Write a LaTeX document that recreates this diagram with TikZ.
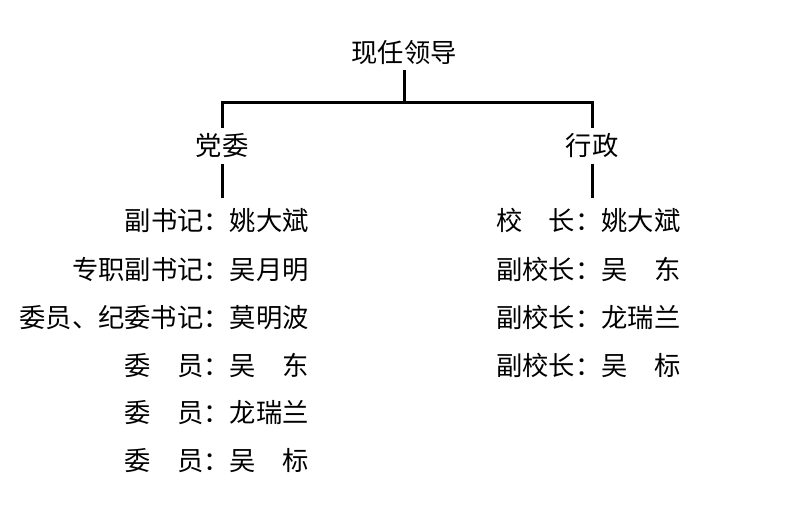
\documentclass[tikz,border=0pt]{standalone}
\usepackage{fontspec}
\newfontfamily\cjk{Noto Sans CJK SC}
\begin{document}
\begin{tikzpicture}[x=1pt,y=1pt,
  txt/.style={font=\cjk\fontsize{26.3}{30}\selectfont, inner xsep=0pt, inner ysep=5pt, text height=22.5pt, text depth=3pt},
  row/.style={txt, inner ysep=0pt},
  conn/.style={line width=3pt}]
\useasboundingbox[fill=white] (0,0) rectangle (798,514);
% top levels
\node[txt] (top) at (404,461.5) {现任领导};
\node[txt] (dw) at (222,368) {党委};
\node[txt] (xz) at (592,368) {行政};
\coordinate (dwend) at (222,316);
\coordinate (xzend) at (592,316);
\draw[conn] (top.south) -- ++(0,-32) coordinate (bar) -| (dw.north);
\draw[conn] (bar) -| (xz.north);
\draw[conn] (dw.south) -- (dwend);
\draw[conn] (xz.south) -- (xzend);
% left column
\node[row, anchor=east] (l1) at (309,293) {副书记：姚大斌};
\node[row, anchor=east] (l2) at (309,244) {专职副书记：吴月明};
\node[row, anchor=east] (l3) at (309,196) {委员、纪委书记：莫明波};
\node[row, anchor=east] (l4) at (309,148) {委　员：吴　东};
\node[row, anchor=east] (l5) at (309,101) {委　员：龙瑞兰};
\node[row, anchor=east] (l6) at (309,53) {委　员：吴　标};
% right column
\node[row, anchor=west] (r1) at (496,293) {校　长：姚大斌};
\node[row, anchor=west] (r2) at (496,244) {副校长：吴　东};
\node[row, anchor=west] (r3) at (496,196) {副校长：龙瑞兰};
\node[row, anchor=west] (r4) at (496,148) {副校长：吴　标};
\end{tikzpicture}
\end{document}
